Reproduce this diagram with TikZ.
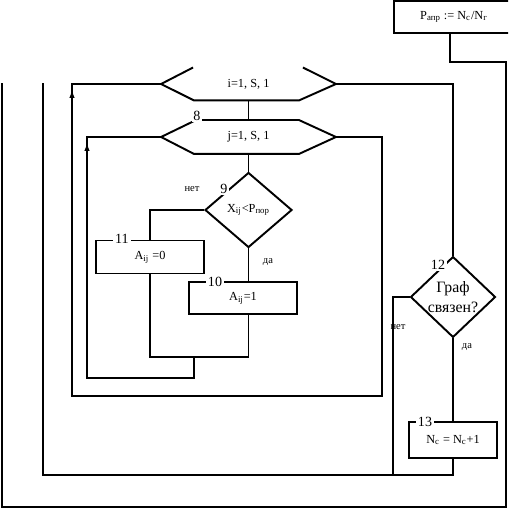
\documentclass[tikz,border=0pt]{standalone}
\usepackage{fontspec}
\setmainfont{Liberation Serif}
\usepackage{tikz}
\usetikzlibrary{shapes.geometric,arrows.meta}

\begin{document}
\begin{tikzpicture}[
    x=0.02cm, y=-0.02cm,
    line width=1.1pt,
    block/.style={
        draw,
        minimum width=2.16cm,
        minimum height=0.66cm,
        inner sep=1pt,
        font=\fontsize{7}{8}\selectfont
    },
    cond/.style={
        draw,
        diamond,
        inner sep=0pt,
        minimum width=1.74cm,
        minimum height=1.5cm,
        align=center,
        font=\fontsize{7}{8}\selectfont
    },
    loophead/.style={
        draw=none,
        minimum width=3.46cm,
        minimum height=0.62cm,
        inner sep=0pt,
        font=\fontsize{7}{8}\selectfont
    },
    num/.style={fill=white, inner sep=1pt, font=\fontsize{8}{9}\selectfont},
    answer/.style={inner sep=1pt, font=\fontsize{6}{7}\selectfont},
    uparrow/.style={-{Latex[length=5pt,width=3pt]}}
]
\clip (0,0) rectangle (508,509);

% top block and outer frame
\node[block, minimum width=2.4cm, minimum height=0.64cm] (bP) at (454,17)
    {P\textsubscript{апр} := N\textsubscript{с}/N\textsubscript{г}};
\coordinate (pout) at (450,33);
\draw (pout) |- (506,62) -- (506,507) -- (2,507) -- (2,83);

% loop headers
\node[loophead] (hi) at (248.5,84) {i=1, S, 1};
\node[loophead, minimum height=0.64cm] (hj) at (248.5,137) {j=1, S, 1};
\draw ([xshift=0.64cm]hi.north west) -- (hi.west) -- ([xshift=0.66cm]hi.south west)
    -- ([xshift=-0.74cm]hi.south east) -- (hi.east) -- ([xshift=-0.66cm]hi.north east);
\draw ([xshift=0.7cm]hj.north west) -- (hj.west) -- ([xshift=0.66cm]hj.south west)
    -- ([xshift=-0.74cm]hj.south east) -- (hj.east) -- ([xshift=-0.74cm]hj.north east) -- cycle;
\node[num] at (197,116) {8};
\draw (hi.south) -- (hj.north);

% comparison
\node[cond] (d9) at (248.5,210) {X\textsubscript{ij}<P\textsubscript{пор}};
\node[num] at (224,189) {9};
\draw (hj.south) -- (d9.north);

\node[block] (b11) at (150,257) {A\textsubscript{ij} =0};
\node[block, minimum height=0.64cm] (b10) at (243,298) {A\textsubscript{ij}=1};
\node[num] at (122,239) {11};
\node[num] at (215,282) {10};

\draw (d9.west) -| (b11.north);
\node[answer] at (192,189) {нет};
\draw (d9.south) -- (d9.south |- b10.north);
\node[answer] at (268,262) {да};

% merge and loop j back
\coordinate (mrg) at (194,357);
\draw (b11.south) |- (mrg);
\draw (mrg) -| (d9.south |- b10.south);
\draw (mrg) -- (194,378) -- (87,378) |- (hj.west);
\draw[uparrow] (87,170) -- (87,142);

% loop i back
\coordinate (jout) at (382,396);
\draw (hj.east) -| (jout) -- (72,396) |- (hi.west);
\draw[uparrow] (72,120) -- (72,89);

% graph connected?
\node[cond, minimum width=1.7cm, font=\fontsize{9}{11}\selectfont] (d12) at (453,297)
    {Граф\\связен?};
\node[num] at (438,265) {12};
\draw (hi.east) -| (d12.north);

\node[block, minimum width=1.76cm, minimum height=0.72cm] (b13) at (453,440)
    {N\textsubscript{с} = N\textsubscript{с}+1};
\node[num] at (425,422) {13};
\draw (d12.south) -- (b13.north);
\node[answer] at (467,347) {да};

\coordinate (nbot) at (393,475);
\draw (d12.west) -| (nbot);
\node[answer] at (398,327) {нет};
\draw (b13.south) |- (nbot) -- (43,475) -- (43,83);

\end{tikzpicture}
\end{document}
